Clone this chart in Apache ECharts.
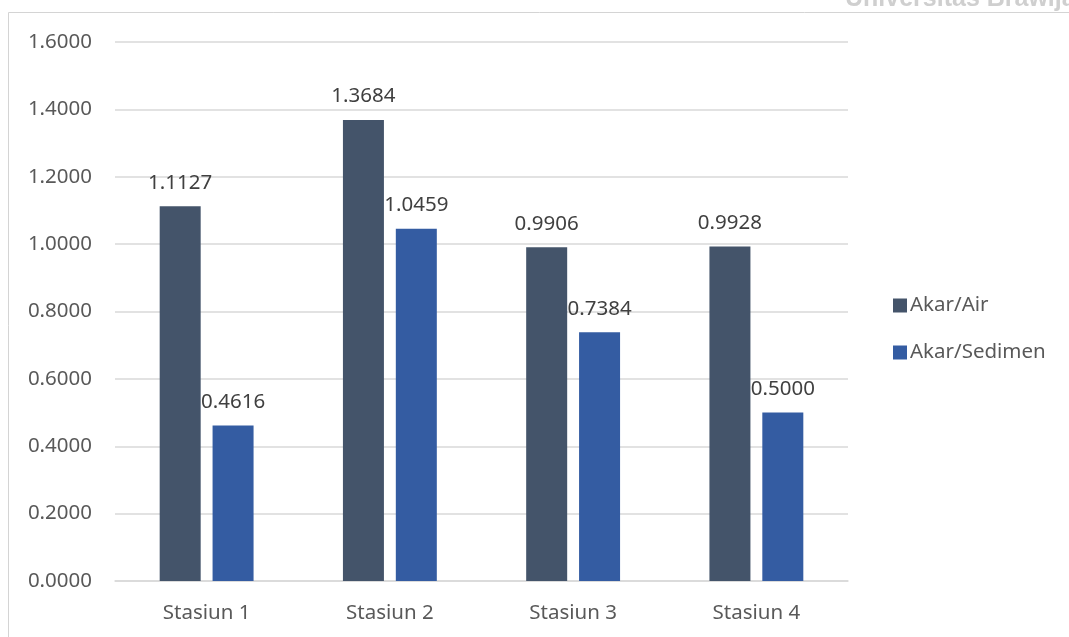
<!DOCTYPE html>
<html>
<head>
<meta charset="utf-8">
<script src="https://cdn.jsdelivr.net/npm/echarts@6/dist/echarts.min.js"></script>
<style>
  html, body { margin: 0; padding: 0; background: #ffffff; }
  #chart { width: 1069px; height: 637px; }
</style>
</head>
<body>
<div id="chart"></div>
<script>
// Station categories and ratio values for each series
const categories = ['Stasiun 1', 'Stasiun 2', 'Stasiun 3', 'Stasiun 4'];
const akarAir = [1.1127, 1.3684, 0.9906, 0.9928];
const akarSedimen = [0.4616, 1.0459, 0.7384, 0.5000];
const seriesNames = ['Akar/Air', 'Akar/Sedimen'];

const FONT = '"Noto Sans", "Open Sans", sans-serif';
const TEXT = '#595959';
const SIZE = 20.5;

const chart = echarts.init(document.getElementById('chart'));

function barSeries(name, data, color) {
  return {
    name: name,
    type: 'bar',
    data: data,
    barWidth: 41,
    barGap: '29%',
    itemStyle: { color: color },
    label: {
      show: true,
      position: 'top',
      distance: 13,
      color: '#404040',
      fontFamily: FONT,
      fontSize: SIZE,
      formatter: p => p.value.toFixed(4)
    }
  };
}

chart.setOption({
  animation: false,
  backgroundColor: '#ffffff',
  graphic: [
    {
      type: 'text',
      left: 845,
      top: -13,
      z: -20,
      style: { text: 'Universitas Brawijaya', fill: '#cfcfcf', font: 'bold 25px "Liberation Sans", sans-serif' }
    },
    {
      type: 'rect',
      shape: { x: 8.5, y: 12.5, width: 1100, height: 700 },
      z: -10,
      style: { fill: '#ffffff', stroke: '#d4d4d4', lineWidth: 1 }
    }
  ],
  grid: { left: 115, right: 221, top: 42, bottom: 56 },
  legend: {
    orient: 'vertical',
    left: 888,
    top: 290,
    itemWidth: 14,
    itemHeight: 14,
    itemGap: 26,
    icon: 'rect',
    data: seriesNames,
    textStyle: { color: TEXT, fontFamily: FONT, fontSize: SIZE, padding: [0, 0, 0, -2] }
  },
  xAxis: {
    type: 'category',
    data: categories,
    axisLine: { show: true, lineStyle: { color: '#d9d9d9', width: 1.5 } },
    axisTick: { show: false },
    axisLabel: { color: TEXT, fontFamily: FONT, fontSize: SIZE, margin: 22 }
  },
  yAxis: {
    type: 'value',
    min: 0,
    max: 1.6,
    interval: 0.2,
    axisLine: { show: false },
    axisTick: { show: false },
    splitLine: { lineStyle: { color: '#d9d9d9', width: 1.5 } },
    axisLabel: {
      color: TEXT, fontFamily: FONT, fontSize: SIZE, margin: 23,
      formatter: v => v.toFixed(4)
    }
  },
  series: [
    barSeries(seriesNames[0], akarAir, '#44546A'),
    barSeries(seriesNames[1], akarSedimen, '#345CA2')
  ]
});
</script>
</body>
</html>
